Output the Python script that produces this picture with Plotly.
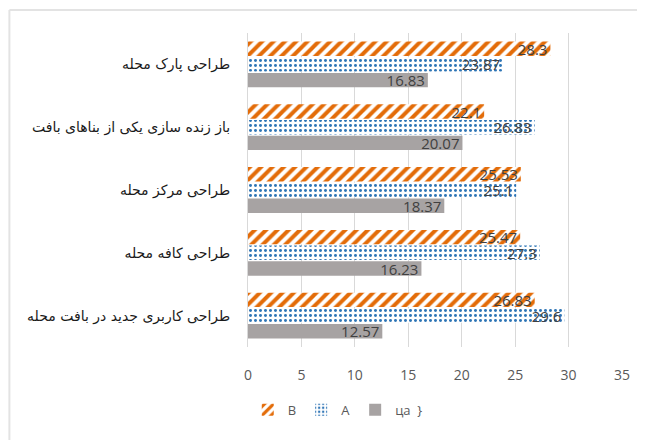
import plotly.graph_objects as go

categories = [
    "طراحی کاربری جدید در بافت محله",
    "طراحی کافه محله",
    "طراحی مرکز محله",
    "باز زنده سازی یکی از بناهای بافت",
    "طراحی پارک محله",
]
series_c = [12.57, 16.23, 18.37, 20.07, 16.83]
series_a = [29.6, 27.3, 25.1, 26.83, 23.87]
series_b = [26.83, 25.47, 25.53, 22.1, 28.3]
names = ["ца  }", "A", "B"]
x_ticks = [0, 5, 10, 15, 20, 25, 30, 35]

label_font = dict(family="Open Sans, DejaVu Sans, sans-serif", size=15, color="#404040")

fig = go.Figure()
fig.add_trace(go.Bar(
    y=categories, x=series_c, name=names[0], orientation="h",
    marker=dict(color="#a7a3a3", line=dict(width=0)),
    text=[f"{v:g}" for v in series_c], textposition="inside", insidetextanchor="end",
    textfont=label_font, constraintext="none",
))
fig.add_trace(go.Bar(
    y=categories, x=series_a, name=names[1], orientation="h",
    marker=dict(color="#2e75b6", line=dict(width=0),
                pattern=dict(shape=".", fillmode="replace", bgcolor="white", size=5, solidity=0.28)),
    text=[f"{v:g}" for v in series_a], textposition="inside", insidetextanchor="end",
    textfont=label_font, constraintext="none",
))
fig.add_trace(go.Bar(
    y=categories, x=series_b, name=names[2], orientation="h",
    marker=dict(color="#e36c09", line=dict(width=0),
                pattern=dict(shape="/", fillmode="replace", bgcolor="white", size=8, solidity=0.5)),
    text=[f"{v:g}" for v in series_b], textposition="inside", insidetextanchor="end",
    textfont=label_font, constraintext="none",
))

border = dict(color="#e3e3e3", width=2)
fig.update_layout(
    width=637, height=432,
    margin=dict(l=240, r=23, t=25, b=93, autoexpand=False),
    paper_bgcolor="white", plot_bgcolor="white",
    barmode="group", bargap=0.25, bargroupgap=0.08,
    legend=dict(orientation="h", traceorder="reversed", x=0.24, xanchor="center",
                y=-0.2, yanchor="middle",
                font=dict(family="Open Sans, DejaVu Sans, sans-serif", size=13, color="#595959"),
                itemwidth=30),
    xaxis=dict(range=[0, 35], tickvals=x_ticks, showgrid=True, gridcolor="#d9d9d9", gridwidth=1,
               zeroline=False, showline=False, automargin=False,
               tickfont=dict(family="Open Sans, DejaVu Sans, sans-serif", size=14, color="#595959"),
               ticklabelstandoff=18),
    yaxis=dict(showgrid=False, zeroline=False, showline=True, linecolor="#d9d9d9", automargin=False,
               tickfont=dict(family="DejaVu Sans, sans-serif", size=14, color="#1a1a1a"),
               ticklabelstandoff=14),
    shapes=[
        dict(type="line", xref="paper", yref="paper", x0=-0.638, x1=1.1, y0=1.073, y1=1.073,
             line=border, layer="below"),
        dict(type="line", xref="paper", yref="paper", x0=-0.638, x1=-0.638, y0=-0.4, y1=1.073,
             line=border, layer="below"),
    ],
)

fig.write_html("out.html")
